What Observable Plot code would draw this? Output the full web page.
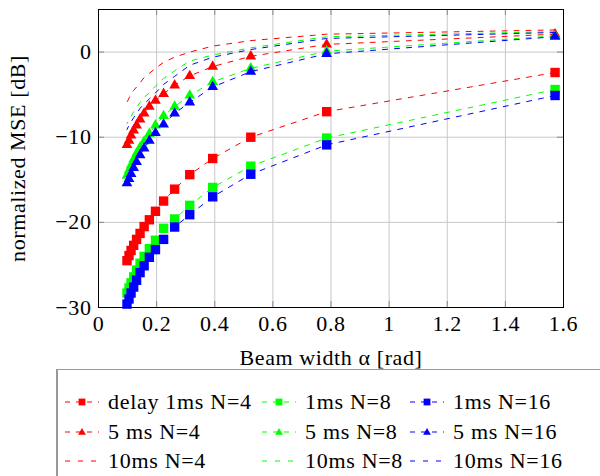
<!DOCTYPE html>
<html><head><meta charset="utf-8">
<script src="https://cdn.jsdelivr.net/npm/d3@7"></script>
<script src="https://cdn.jsdelivr.net/npm/@observablehq/plot@0.6"></script>
<style>
body{margin:0;background:#fff;}
#wrap{position:relative;width:600px;height:476px;overflow:hidden;font-family:"Liberation Serif",serif;}
#legendbox{position:absolute;left:56px;top:369px;width:600px;height:120px;border-top:1px solid #999;border-left:2px solid #999;box-sizing:border-box;}
.lt{position:absolute;font-size:22px;letter-spacing:0.7px;line-height:24px;height:24px;white-space:nowrap;color:#000;}
.sw{position:absolute;}
</style></head><body><div id="wrap"><div id="legendbox"></div></div>
<script>
// Beam width alpha [rad]
const alpha = [1.571, 0.785, 0.524, 0.393, 0.314, 0.262, 0.224, 0.196, 0.175, 0.157, 0.143, 0.131, 0.121, 0.112, 0.105, 0.098];

// normalized MSE [dB]
const ms1_N4  = [-2.4, -7.0, -10.0, -12.5, -14.4, -16.1, -17.5, -18.7, -19.7, -20.5, -21.3, -22.0, -22.7, -23.3, -23.9, -24.5];
const ms1_N8  = [-4.4, -10.1, -13.4, -15.9, -18.0, -19.6, -20.7, -22.1, -23.1, -24.0, -24.8, -25.6, -26.4, -27.1, -27.7, -28.3];
const ms1_N16 = [-5.1, -10.9, -14.35, -17.0, -19.1, -20.55, -22.0, -23.2, -24.1, -25.1, -25.9, -26.8, -27.6, -28.3, -29.0, -29.6];
const ms5_N4  = [2.1, 0.9, -0.5, -1.7, -2.8, -3.9, -4.9, -5.7, -6.4, -7.2, -7.9, -8.6, -9.2, -9.8, -10.4, -10.9];
const ms5_N8  = [1.9, 0.1, -1.9, -3.5, -5.1, -6.4, -7.5, -8.6, -9.6, -10.5, -11.2, -11.9, -12.6, -13.3, -13.9, -14.5];
const ms5_N16 = [1.8, -0.2, -2.3, -4.1, -5.9, -7.2, -8.5, -9.5, -10.4, -11.3, -12.1, -12.9, -13.6, -14.3, -14.9, -15.4];
const ms10_N4  = [2.6, 2.1, 1.35, 0.7, 0.0, -0.6, -1.2, -1.9, -2.5, -3.0, -3.6, -4.1, -4.5, -4.9, -5.4, -5.9];
const ms10_N8  = [2.4, 1.8, 0.5, -0.35, -1.05, -2.2, -3.1, -4.0, -4.8, -5.3, -5.9, -6.5, -7.0, -7.6, -8.0, -8.4];
const ms10_N16 = [2.3, 1.6, 0.3, -0.6, -1.55, -2.85, -3.8, -4.8, -5.5, -6.1, -6.6, -7.2, -7.7, -8.2, -8.6, -9.1];

const seriesNames = ["delay 1ms N=4", "1ms N=8", "1ms N=16", "5 ms N=4", "5 ms N=8", "5 ms N=16", "10ms N=4", "10ms N=8", "10ms N=16"];
const seriesValues = [ms1_N4, ms1_N8, ms1_N16, ms5_N4, ms5_N8, ms5_N16, ms10_N4, ms10_N8, ms10_N16];
const seriesColors = ["#ff0000", "#00ff00", "#0000ff", "#ff0000", "#00ff00", "#0000ff", "#ff0000", "#00ff00", "#0000ff"];
const seriesSymbols = ["square", "square", "square", "triangle", "triangle", "triangle", null, null, null];

const xTicks = [0, 0.2, 0.4, 0.6, 0.8, 1, 1.2, 1.4, 1.6];
const yTicks = [-30, -20, -10, 0];
const xGrid = [0.2, 0.4, 0.6, 0.8, 1, 1.2, 1.4];
const yGrid = [-20, -10, 0];

const fmt = d => String(d).replace("-", "\u2212");
const dash = "5,7";

const marks = [
  Plot.gridX(xGrid, {stroke: "#c8c8c8", strokeOpacity: 1, strokeWidth: 1}),
  Plot.gridY(yGrid, {stroke: "#c8c8c8", strokeOpacity: 1, strokeWidth: 1}),
  Plot.tickX(xGrid, {x: d => d, stroke: "#888", insetTop: 292}),
  Plot.tickX(xGrid, {x: d => d, stroke: "#888", insetBottom: 292}),
  Plot.tickY(yGrid, {y: d => d, stroke: "#888", insetRight: 459}),
  Plot.tickY(yGrid, {y: d => d, stroke: "#888", insetLeft: 459}),
];
seriesValues.forEach((vals, i) => {
  const data = vals.map((v, k) => ({x: alpha[k], y: v}));
  marks.push(Plot.line(data, {x: "x", y: "y", stroke: seriesColors[i], strokeWidth: 1, strokeDasharray: dash}));
  if (seriesSymbols[i]) {
    marks.push(Plot.dot(data, {x: "x", y: "y", symbol: seriesSymbols[i], r: seriesSymbols[i] === "square" ? 5.3 : 4, fill: seriesColors[i], stroke: "none"}));
  }
});
marks.push(
  Plot.frame({stroke: "#000", strokeWidth: 1}),
  Plot.axisX(xTicks, {anchor: "bottom", tickSize: 0, tickPadding: 8, tickFormat: fmt, label: "Beam width α [rad]", labelAnchor: "center", labelOffset: 57, labelArrow: "none"}),
  Plot.axisY(yTicks, {anchor: "left", tickSize: 0, tickPadding: 7, tickFormat: fmt, label: "normalized MSE [dB]", labelAnchor: "center", labelOffset: 89, labelArrow: "none"})
);

const chart = Plot.plot({
  width: 600, height: 370,
  marginLeft: 98, marginRight: 37, marginTop: 9, marginBottom: 63,
  x: {domain: [0, 1.6]},
  y: {domain: [-30, 5]},
  style: {fontFamily: "Liberation Serif", fontSize: "22px", letterSpacing: "0.6px", color: "#000", background: "#fff"},
  marks
});
const wrap = document.getElementById("wrap");
wrap.insertBefore(chart, wrap.firstChild);

// legend
const colX = [65, 262, 410];
const textX = [108, 305, 453];
const rowY = [402, 432, 461];
seriesNames.forEach((name, i) => {
  const c = i % 3, r = Math.floor(i / 3);
  const svg = d3.create("svg").attr("class", "sw").attr("width", 34).attr("height", 14)
    .style("left", colX[c] + "px").style("top", (rowY[r] - 7) + "px");
  svg.append("line").attr("x1", 0).attr("x2", 34).attr("y1", 7).attr("y2", 7)
    .attr("stroke", seriesColors[i]).attr("stroke-width", 1).attr("stroke-dasharray", seriesSymbols[i] ? "5,6" : "5,8");
  if (seriesSymbols[i] === "square") {
    svg.append("rect").attr("x", 17 - 3.4).attr("y", 7 - 3.4).attr("width", 6.8).attr("height", 6.8).attr("fill", seriesColors[i]);
  } else if (seriesSymbols[i] === "triangle") {
    svg.append("path").attr("d", d3.symbol(d3.symbolTriangle, 26)()).attr("transform", "translate(17,7.5)").attr("fill", seriesColors[i]);
  }
  wrap.appendChild(svg.node());
  const t = document.createElement("div");
  t.className = "lt";
  t.textContent = name;
  t.style.left = textX[c] + "px";
  t.style.top = (rowY[r] - 12) + "px";
  wrap.appendChild(t);
});
</script></body></html>
